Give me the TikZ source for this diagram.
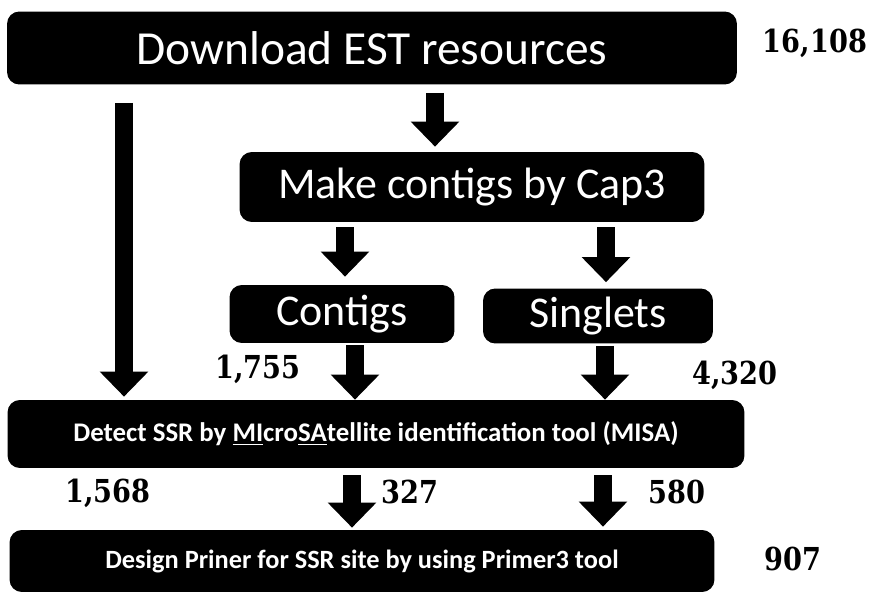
\documentclass[tikz,border=0pt]{standalone}
\usepackage{fontspec}
\setmainfont{Carlito}
\newfontfamily\numfont{DejaVu Serif}[FakeStretch=0.86]
\usetikzlibrary{arrows.meta}

\begin{document}
\begin{tikzpicture}[x=0.02cm,y=-0.02cm,
  box/.style={fill=black,text=white,rounded corners=7pt,inner sep=0pt},
  bigarrow/.style={line width=10pt,-{Triangle[width=0.94cm,length=0.5cm]}},
  count/.style={font=\numfont\bfseries\fontsize{18}{20}\selectfont}]
\useasboundingbox (0,0) rectangle (877,595);

% Steps
\node[box,minimum width=14.6cm,minimum height=1.46cm,font=\fontsize{27}{30}\selectfont] (dl) at (372,48) {Download EST resources};
\node[box,minimum width=9.3cm,minimum height=1.4cm,font=\fontsize{25}{28}\selectfont] (mc) at (472,187) {Make contigs by Cap3};
\node[box,minimum width=4.5cm,minimum height=1.16cm,font=\fontsize{25}{28}\selectfont] (ctg) at (342,314) {Contigs};
\node[box,minimum width=4.6cm,minimum height=1.1cm,font=\fontsize{25}{28}\selectfont] (sgl) at (598,316) {Singlets};
\node[box,minimum width=14.74cm,minimum height=1.36cm,font=\bfseries\fontsize{15.3}{17}\selectfont] (misa) at (376,434) {Detect SSR by \underline{MI}cro\underline{SA}tellite identification tool (MISA)};
\node[box,minimum width=14.1cm,minimum height=1.24cm,font=\bfseries\fontsize{15}{17}\selectfont] (dp) at (362,561) {Design Priner for SSR site by using Primer3 tool};

% Counts
\node[count] (n1) at (815,43) {16,108};
\node[count] (n2) at (258,369) {1,755};
\node[count] (n3) at (735,375) {4,320};
\node[count] (n4) at (108,493) {1,568};
\node[count] (n5) at (410,492) {327};
\node[count] (n6) at (677,492) {580};
\node[count] (n7) at (793,559) {907};

% Arrows
\draw[bigarrow,shorten <=0.36cm,shorten >=0.06cm] (124,0 |- dl.south) -- (124,0 |- misa.north);
\draw[bigarrow,shorten <=0.16cm,shorten >=0.1cm] (435,0 |- dl.south) -- (435,0 |- mc.north);
\draw[bigarrow,shorten <=0.1cm,shorten >=0.16cm] (345,0 |- mc.south) -- (345,0 |- ctg.north);
\draw[bigarrow,shorten <=0.1cm,shorten >=0.12cm] (606,0 |- mc.south) -- (606,0 |- sgl.north);
\draw[bigarrow,shorten <=0.04cm] (355,0 |- ctg.south) -- (355,0 |- misa.north);
\draw[bigarrow,shorten <=0.04cm] (605,0 |- sgl.south) -- (605,0 |- misa.north);
\draw[bigarrow,shorten <=0.14cm,shorten >=0.04cm] (352,0 |- misa.south) -- (352,0 |- dp.north);
\draw[bigarrow,shorten <=0.14cm,shorten >=0.06cm] (603,0 |- misa.south) -- (603,0 |- dp.north);

\end{tikzpicture}
\end{document}
